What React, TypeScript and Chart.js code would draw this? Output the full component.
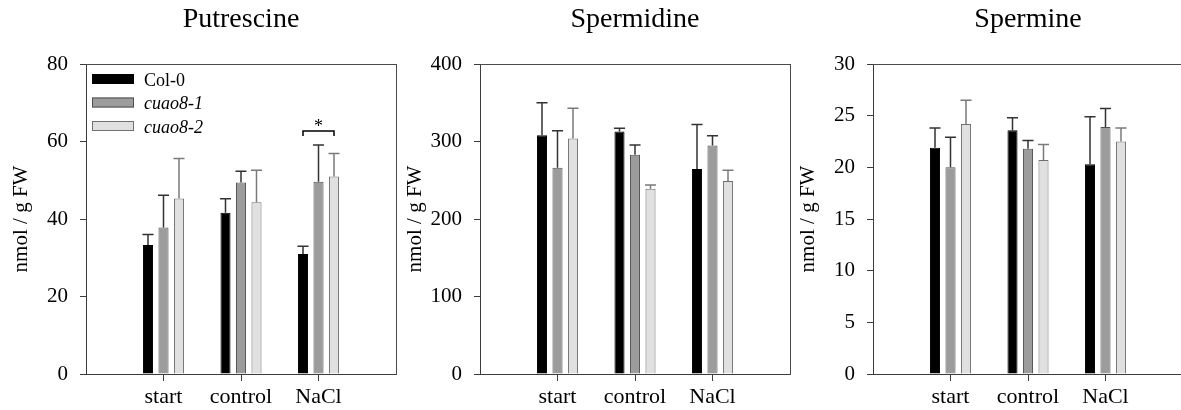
import React, { useEffect, useRef } from 'react';
import { Chart, registerables } from 'chart.js';

Chart.register(...registerables);

// ---------- data ----------
const categories = ['start', 'control', 'NaCl'];
const categoryX = [1, 2, 3];
const seriesNames = ['Col-0', 'cuao8-1', 'cuao8-2'];
const seriesItalic = [false, true, true];

const putrescineCol0 = [33.3, 41.6, 31.0];
const putrescineCuao81 = [37.8, 49.4, 49.6];
const putrescineCuao82 = [45.3, 44.3, 51.0];
const putrescineCol0Err = [2.7, 3.6, 2.0];
const putrescineCuao81Err = [8.3, 2.9, 9.5];
const putrescineCuao82Err = [10.3, 8.3, 5.9];

const spermidineCol0 = [308, 313, 264.5];
const spermidineCuao81 = [266, 283, 295];
const spermidineCuao82 = [304, 239, 249];
const spermidineCol0Err = [42, 4, 57.5];
const spermidineCuao81Err = [48, 12.5, 12.5];
const spermidineCuao82Err = [39, 5, 14];

const spermineCol0 = [21.9, 23.6, 20.3];
const spermineCuao81 = [20.0, 21.8, 23.9];
const spermineCuao82 = [24.2, 20.7, 22.5];
const spermineCol0Err = [1.9, 1.2, 4.6];
const spermineCuao81Err = [2.9, 0.8, 1.8];
const spermineCuao82Err = [2.3, 1.5, 1.3];

const putrescineTicks = { max: 80, step: 20 };
const spermidineTicks = { max: 400, step: 100 };
const spermineTicks = { max: 30, step: 5 };

const yAxisTitle = 'nmol / g FW';
const sigBracket = { category: 2, fromSeries: 0, toSeries: 2, level: 62.7, label: '*' };

// ---------- styles ----------
const SERIF = "'Liberation Serif', 'Times New Roman', Times, serif";
const AXIS = '#3c3c3c';
const FRAME = '#4a4a4a';
const barFill = ['#000000', '#9c9c9c', '#e0e0e0'];
const barBorder = ['#000000', '#505050', '#707070'];
const errColor = ['#333333', '#333333', '#7a7a7a'];

const errorBarPlugin = {
  id: 'errorBars',
  afterDatasetsDraw(chart: any) {
    const ctx = chart.ctx;
    const yScale = chart.scales.y;
    chart.data.datasets.forEach((ds: any, d: number) => {
      const meta = chart.getDatasetMeta(d);
      meta.data.forEach((bar: any, i: number) => {
        const v = ds.data[i].y;
        const e = ds.errors[i];
        const { x, y, width } = bar.getProps(['x', 'y', 'width'], true);
        const yTop = yScale.getPixelForValue(v + e);
        ctx.save();
        ctx.strokeStyle = ds.errorColor;
        ctx.lineWidth = 1.5;
        ctx.beginPath();
        ctx.moveTo(x, y);
        ctx.lineTo(x, yTop);
        ctx.moveTo(x - width / 2 - 0.5, yTop);
        ctx.lineTo(x + width / 2 + 0.5, yTop);
        ctx.stroke();
        ctx.restore();
      });
    });
  },
};

const legendPlugin = {
  id: 'insideLegend',
  afterDatasetsDraw(chart: any) {
    const ctx = chart.ctx;
    const area = chart.chartArea;
    const x0 = area.left + 6;
    const y0 = area.top + 15;
    chart.data.datasets.forEach((ds: any, d: number) => {
      const cy = y0 + d * 23.5;
      ctx.save();
      ctx.fillStyle = ds.backgroundColor;
      ctx.fillRect(x0, cy - 5, 42, 10);
      ctx.strokeStyle = ds.borderColor;
      ctx.lineWidth = 1;
      ctx.strokeRect(x0 + 0.5, cy - 4.5, 41, 9);
      ctx.fillStyle = '#000';
      ctx.font = `${seriesItalic[d] ? 'italic ' : ''}18px ${SERIF}`;
      ctx.textBaseline = 'alphabetic';
      ctx.textAlign = 'left';
      ctx.fillText(ds.label, x0 + 52, cy + 6.5);
      ctx.restore();
    });
  },
};

const bracketPlugin = {
  id: 'sigBracket',
  afterDatasetsDraw(chart: any) {
    const ctx = chart.ctx;
    const yScale = chart.scales.y;
    const a = chart.getDatasetMeta(sigBracket.fromSeries).data[sigBracket.category];
    const b = chart.getDatasetMeta(sigBracket.toSeries).data[sigBracket.category];
    const xa = a.x;
    const xb = b.x;
    const y = yScale.getPixelForValue(sigBracket.level);
    ctx.save();
    ctx.strokeStyle = '#000';
    ctx.lineWidth = 1.5;
    ctx.beginPath();
    ctx.moveTo(xa, y + 5);
    ctx.lineTo(xa, y);
    ctx.lineTo(xb, y);
    ctx.lineTo(xb, y + 5);
    ctx.stroke();
    ctx.fillStyle = '#000';
    ctx.font = `18px ${SERIF}`;
    ctx.textAlign = 'center';
    ctx.textBaseline = 'alphabetic';
    ctx.fillText(sigBracket.label, (xa + xb) / 2, y + 1);
    ctx.restore();
  },
};

type PanelProps = {
  title: string;
  series: number[][];
  errors: number[][];
  yMax: number;
  yStep: number;
  legend?: boolean;
  bracket?: boolean;
  left: number;
};

function Panel({ title, series, errors, yMax, yStep, legend, bracket, left }: PanelProps) {
  const ref = useRef<HTMLCanvasElement | null>(null);
  useEffect(() => {
    if (!ref.current) return;
    const font21 = { family: SERIF, size: 21, weight: 'normal' as const };
    const font22 = { family: SERIF, size: 22, weight: 'normal' as const };
    const plugins: any[] = [errorBarPlugin];
    if (legend) plugins.push(legendPlugin);
    if (bracket) plugins.push(bracketPlugin);
    const chart = new Chart(ref.current, {
      type: 'bar',
      data: {
        datasets: series.map((vals, d) => ({
          label: seriesNames[d],
          data: vals.map((v, i) => ({ x: categoryX[i], y: v })),
          backgroundColor: barFill[d],
          borderColor: barBorder[d],
          borderWidth: 1,
          categoryPercentage: 0.6,
          barPercentage: 0.65,
          errors: errors[d],
          errorColor: errColor[d],
        })) as any,
      },
      options: {
        animation: false,
        responsive: false,
        devicePixelRatio: 1,
        layout: { padding: { left: 0, right: 4, top: 0, bottom: 0 } },
        plugins: {
          legend: { display: false },
          tooltip: { enabled: false },
          title: {
            display: true,
            text: title,
            fullSize: false,
            color: '#000',
            font: { family: SERIF, size: 28, weight: 'normal', lineHeight: 1.2 },
            padding: { top: 3, bottom: 27.4 },
          },
        },
        scales: {
          x: {
            type: 'linear',
            min: 0,
            max: 4,
            offset: false,
            position: 'bottom',
            afterBuildTicks: (s: any) => {
              s.ticks = categoryX.map((v) => ({ value: v }));
            },
            afterFit: (s: any) => {
              s.height = 36;
            },
            ticks: {
              autoSkip: false,
              maxRotation: 0,
              color: '#000',
              font: font22,
              padding: 3,
              callback: (v: any) => {
                const i = categoryX.indexOf(Number(v));
                return i >= 0 ? categories[i] : '';
              },
            },
            grid: { display: true, offset: false, drawOnChartArea: false, drawTicks: true, tickLength: 7, color: AXIS, lineWidth: 1 },
            border: { display: true, color: AXIS, width: 1 },
          },
          y: {
            type: 'linear',
            min: 0,
            max: yMax,
            position: 'left',
            afterFit: (s: any) => {
              s.width = 86;
            },
            ticks: { stepSize: yStep, color: '#000', font: font21, padding: 12 },
            grid: { display: true, drawOnChartArea: false, drawTicks: true, tickLength: 6, color: AXIS, lineWidth: 1 },
            border: { display: true, color: AXIS, width: 1 },
            title: {
              display: true,
              text: yAxisTitle,
              color: '#000',
              font: font21,
              padding: { top: 9, bottom: 0 },
            },
          },
          x2: {
            type: 'linear',
            position: 'top',
            min: 0,
            max: 1,
            afterFit: (s: any) => {
              s.height = 0;
            },
            ticks: { display: false },
            grid: { display: false },
            border: { display: true, color: FRAME, width: 1 },
          },
          y2: {
            type: 'linear',
            position: 'right',
            min: 0,
            max: 1,
            afterFit: (s: any) => {
              s.width = 0;
            },
            ticks: { display: false },
            grid: { display: false },
            border: { display: true, color: FRAME, width: 1 },
          },
        },
      } as any,
      plugins,
    });
    return () => chart.destroy();
  }, []);
  return (
    <div style={{ position: 'absolute', left, top: 0, width: 400, height: 410 }}>
      <canvas ref={ref} width={400} height={410} style={{ width: 400, height: 410, display: 'block' }} />
    </div>
  );
}

export default function App() {
  return (
    <div
      style={{
        position: 'fixed',
        left: 0,
        top: 0,
        width: 1181,
        height: 410,
        overflow: 'hidden',
        background: '#fff',
      }}
    >
      <Panel
        left={0}
        title="Putrescine"
        series={[putrescineCol0, putrescineCuao81, putrescineCuao82]}
        errors={[putrescineCol0Err, putrescineCuao81Err, putrescineCuao82Err]}
        yMax={putrescineTicks.max}
        yStep={putrescineTicks.step}
        legend
        bracket
      />
      <Panel
        left={394}
        title="Spermidine"
        series={[spermidineCol0, spermidineCuao81, spermidineCuao82]}
        errors={[spermidineCol0Err, spermidineCuao81Err, spermidineCuao82Err]}
        yMax={spermidineTicks.max}
        yStep={spermidineTicks.step}
      />
      <Panel
        left={787}
        title="Spermine"
        series={[spermineCol0, spermineCuao81, spermineCuao82]}
        errors={[spermineCol0Err, spermineCuao81Err, spermineCuao82Err]}
        yMax={spermineTicks.max}
        yStep={spermineTicks.step}
      />
    </div>
  );
}
